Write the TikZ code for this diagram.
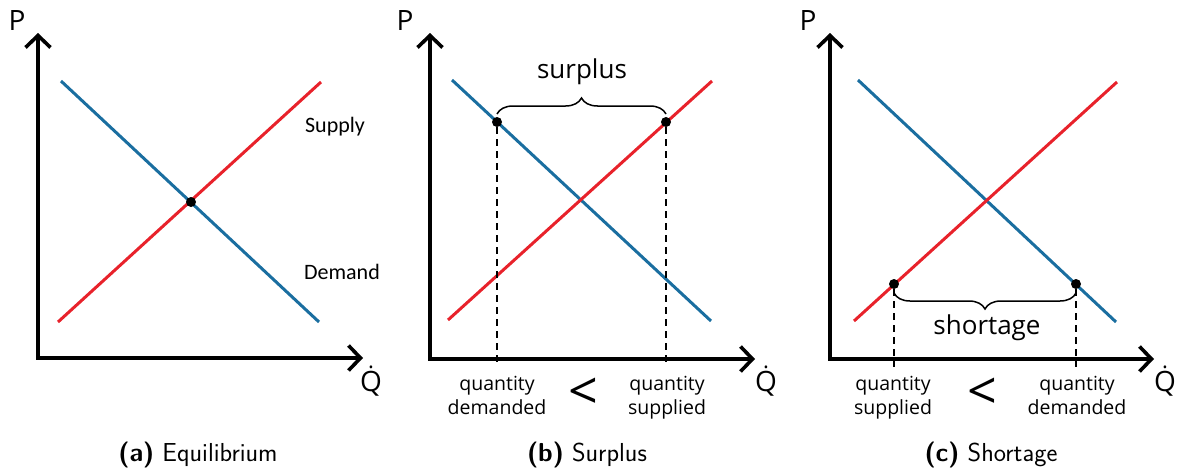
\documentclass[tikz,border=0pt]{standalone}
\usepackage{fontspec}
\newfontfamily\labfont{Open Sans}
\newfontfamily\calfont{Carlito}
\usetikzlibrary{arrows.meta,decorations.pathreplacing}
\definecolor{dblue}{RGB}{26,110,160}
\definecolor{sred}{RGB}{232,34,43}
\newcommand{\Qdot}{\ooalign{Q\cr\hidewidth\raisebox{0.8em}{\fontsize{22}{24}\selectfont.}\hidewidth\cr}}
\begin{document}
\begin{tikzpicture}[x=1pt,y=-1pt,
  axes/.style={line width=3.6pt,
    {Straight Barb[length=12pt,width=25pt,line width=3.6pt]}-{Straight Barb[length=12pt,width=25pt,line width=3.6pt]}},
  demand/.style={dblue,line width=3pt},
  supply/.style={sred,line width=3pt},
  dot/.style={circle,fill=black,inner sep=0pt,minimum size=10pt},
  guide/.style={line width=1.5pt,dash pattern=on 7pt off 5pt},
  bracestyle/.style={line width=1.5pt,decorate,decoration={brace,amplitude=16pt}},
  axlab/.style={font=\labfont\fontsize{28}{30}\selectfont,inner sep=0pt},
  qaxlab/.style={axlab,anchor=base},
  curvelab/.style={font=\calfont\fontsize{22}{24}\selectfont,inner sep=0pt},
  gaplab/.style={font=\labfont\fontsize{26}{28}\selectfont,inner sep=0pt},
  qlab/.style={font=\labfont\fontsize{19.5}{21}\selectfont,inner sep=0pt,anchor=base},
  lesslab/.style={font=\labfont\fontsize{52}{54}\selectfont,inner sep=0pt},
  caplab/.style={font=\sffamily\fontsize{26}{28}\selectfont,inner sep=0pt}]
\useasboundingbox (0,0) rectangle (1179,471);

% ---------- (a) Equilibrium ----------
\coordinate (aP) at (38,33);
\coordinate (aO) at (38,358);
\coordinate (aQ) at (363,358);
\draw[axes] (aP) -- (aO) -- (aQ);
\node[axlab] (aPl) at (17,21) {P};
\node[qaxlab] (aQl) at (371,391) {\Qdot};
\coordinate (aD1) at (61,81);
\coordinate (aD2) at (319,322);
\coordinate (aS1) at (58,322);
\coordinate (aS2) at (321,82);
\draw[demand] (aD1) -- (aD2);
\draw[supply] (aS1) -- (aS2);
\node[dot] (aE) at (191,202) {};
\node[curvelab] (aSl) at (335,127) {Supply};
\node[curvelab] (aDl) at (342,272) {Demand};
\node[caplab] (acap) at (198,455) {\textbf{(a)} Equilibrium};

% ---------- (b) Surplus ----------
\coordinate (bP) at (430,33);
\coordinate (bO) at (430,359);
\coordinate (bQ) at (755,359);
\draw[axes] (bP) -- (bO) -- (bQ);
\node[axlab] (bPl) at (405,21) {P};
\node[qaxlab] (bQl) at (766,391) {\Qdot};
\coordinate (bD1) at (452,80);
\coordinate (bD2) at (711,321);
\coordinate (bS1) at (448,320);
\coordinate (bS2) at (712,81);
\draw[demand] (bD1) -- (bD2);
\draw[supply] (bS1) -- (bS2);
\node[dot] (bqd) at (497,122) {};
\node[dot] (bqs) at (666,122) {};
\coordinate (bqdx) at (497,367);
\coordinate (bqsx) at (666,367);
\draw[guide] (bqd) -- (bqdx);
\draw[guide] (bqs) -- (bqsx);
\coordinate (bb1) at (497,114);
\coordinate (bb2) at (666,114);
\draw[bracestyle] (bb1) -- (bb2);
\node[gaplab] (bsur) at (582,72) {surplus};
\node[qlab] (bl1a) at (497,390) {quantity};
\node[qlab] (bl1b) at (497,414) {demanded};
\node[qlab] (bl2a) at (667,390) {quantity};
\node[qlab] (bl2b) at (667,414) {supplied};
\node[lesslab] (blt) at (583,394) {<};
\node[caplab] (bcap) at (587,455) {\textbf{(b)} Surplus};

% ---------- (c) Shortage ----------
\coordinate (cP) at (830,33);
\coordinate (cO) at (830,359);
\coordinate (cQ) at (1154,359);
\draw[axes] (cP) -- (cO) -- (cQ);
\node[axlab] (cPl) at (808,21) {P};
\node[qaxlab] (cQl) at (1165,391) {\Qdot};
\coordinate (cD1) at (858,80);
\coordinate (cD2) at (1116,322);
\coordinate (cS1) at (854,321);
\coordinate (cS2) at (1117,82);
\draw[demand] (cD1) -- (cD2);
\draw[supply] (cS1) -- (cS2);
\node[dot] (cqs) at (894,284) {};
\node[dot] (cqd) at (1076,284) {};
\coordinate (cqsx) at (894,367);
\coordinate (cqdx) at (1076,367);
\draw[guide] (cqs) -- (cqsx);
\draw[guide] (cqd) -- (cqdx);
\coordinate (cb1) at (1076,293);
\coordinate (cb2) at (894,293);
\draw[bracestyle] (cb1) -- (cb2);
\node[gaplab] (cshort) at (987,328) {shortage};
\node[qlab] (cl1a) at (893,390) {quantity};
\node[qlab] (cl1b) at (893,414) {supplied};
\node[qlab] (cl2a) at (1077,390) {quantity};
\node[qlab] (cl2b) at (1077,414) {demanded};
\node[lesslab] (clt) at (982,394) {<};
\node[caplab] (ccap) at (991,455) {\textbf{(c)} Shortage};
\end{tikzpicture}
\end{document}
